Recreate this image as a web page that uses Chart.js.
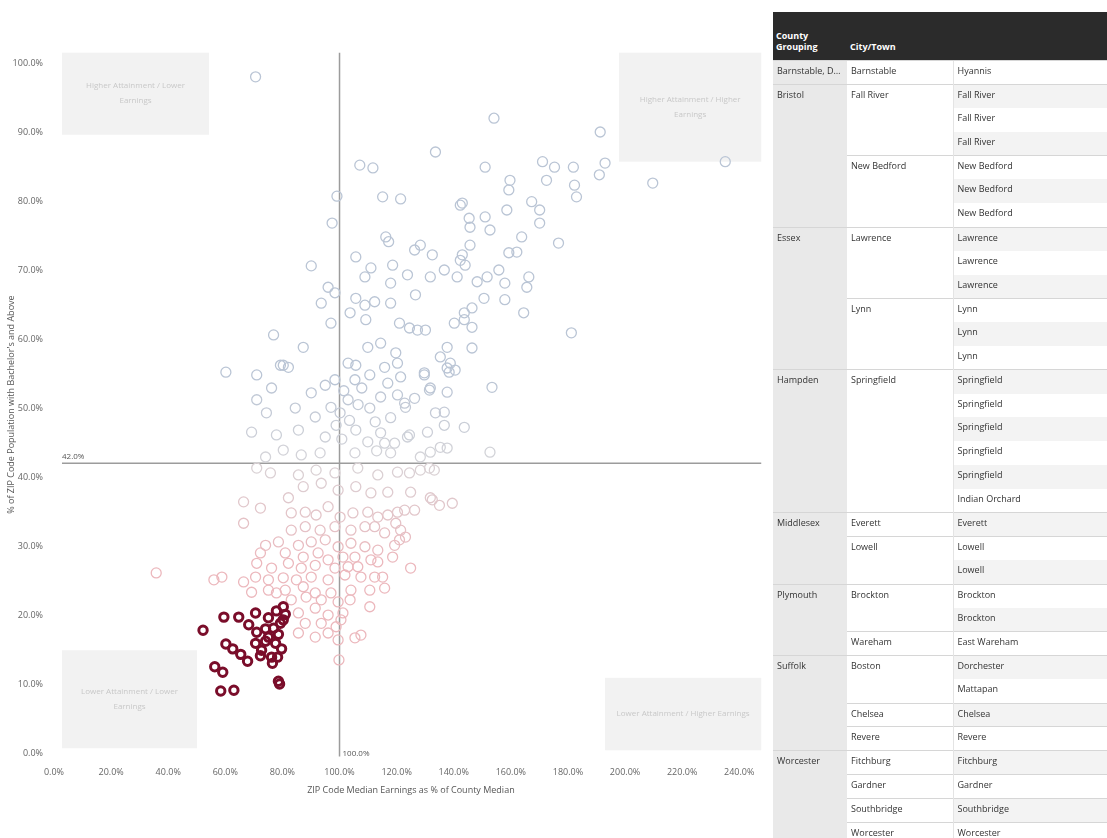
<!DOCTYPE html>
<html>
<head>
<meta charset="utf-8">
<script src="https://cdn.jsdelivr.net/npm/chart.js@4.4.1/dist/chart.umd.min.js"></script>
<style>
  body { margin: 0; background: #fff; width: 1107px; height: 838px; overflow: hidden; font-family: "Open Sans", sans-serif; }
  #chart-box { position: absolute; left: 0; top: 0; width: 775px; height: 800px; }
  #table-box { position: absolute; left: 773px; top: 12px; width: 334px; }
  table { border-collapse: collapse; table-layout: fixed; width: 334px; font-size: 9px; color: #333; }
  th { background: #2b2b2b; color: #fff; font-weight: 700; text-align: left; vertical-align: bottom; height: 40px; padding: 0 3px 8px; line-height: 11px; }
  tbody tr { height: 23.8px; }
  td { padding: 0 4px; vertical-align: top; line-height: 20px; white-space: nowrap; overflow: hidden; text-overflow: ellipsis; }
  td.county { background: #e9e9e9; }
  td.city { background: #fff; }
  td.place { background: #fff; border-left: 1px solid #e4e4e4; }
  td.place.shade { background: #f3f3f3; }
  td.top { border-top: 1px solid #d6d6d6; }
</style>
</head>
<body>
<div id="chart-box"><canvas id="zip-chart" width="775" height="800"></canvas></div>
<div id="table-box">
  <table id="zip-table">
    <colgroup><col style="width:74px"><col style="width:106px"><col style="width:154px"></colgroup>
    <thead><tr><th>County<br>Grouping</th><th>City/Town</th><th></th></tr></thead>
    <tbody></tbody>
  </table>
</div>
<script>
// earnings (% of county median), attainment (% bachelor's and above)
const zipPoints = [
  [70.6,98.0],[133.6,87.1],[107.1,85.2],[111.7,84.8],[99.1,80.7],[115.1,80.6],[121.4,80.3],[97.4,76.8],[142.3,79.4],
  [116.2,74.8],[117.2,74.1],[105.7,71.9],[111.0,70.3],[108.9,69.0],[118.6,70.7],[126.3,72.9],[128.3,73.6],[132.5,72.2],
  [136.7,70.0],[131.8,69.0],[123.8,69.3],[117.9,68.1],[141.2,69.0],[90.1,70.6],[96.0,67.5],[98.4,66.7],[93.6,65.2],
  [105.7,65.9],[112.3,65.4],[117.9,65.2],[126.6,66.4],[103.7,63.8],[108.9,64.9],[109.2,62.8],[97.0,62.3],[121.0,62.3],
  [124.5,61.6],[127.3,61.3],[130.1,61.3],[140.2,62.3],[143.7,62.8],[76.9,60.6],[87.3,58.8],[109.9,58.8],[114.4,59.4],
  [119.7,58.0],[135.3,57.4],[138.8,56.5],[80.3,56.2],[103.0,56.5],[105.7,56.2],
  [154.1,92.0],[191.3,90.0],[235.1,85.7],[151.0,84.9],[171.1,85.7],[175.3,84.9],[172.5,83.0],[181.9,84.9],[182.3,82.3],
  [183.0,80.6],[193.0,85.5],[191.0,83.8],[209.7,82.6],[159.7,83.0],[159.3,81.6],[143.0,79.7],[145.4,77.5],[145.7,76.2],
  [151.0,77.7],[152.7,75.8],[158.6,78.7],[167.3,79.9],[170.1,78.7],[170.1,76.8],[163.8,74.8],[176.7,73.9],[145.7,73.6],
  [159.3,72.5],[162.1,72.6],[143.0,72.2],[144.0,70.7],[155.8,70.0],[151.7,69.0],[148.2,68.3],[157.9,68.1],[166.3,69.0],
  [165.6,67.5],[150.6,65.9],[157.9,65.7],[146.4,64.5],[143.7,63.8],[164.5,63.8],[146.4,61.7],[181.2,60.9],[146.4,58.7],
  [142.3,71.4],
  [120.3,56.5],[115.8,55.9],[137.7,58.8],[121.4,54.5],[129.7,54.8],[138.4,55.2],[140.5,55.5],[131.8,52.9],[137.7,52.3],
  [153.4,53.0],[114.4,51.6],[120.3,51.9],[126.3,51.4],[122.8,50.7],[133.6,49.3],[136.7,49.4],[143.7,47.2],[136.7,47.5],
  [117.9,48.6],[123.8,45.8],[137.7,44.2],[152.7,43.6],[131.8,43.6],[115.8,44.9],
  [60.2,55.2],[71.0,54.8],[79.3,56.2],[82.1,55.9],[76.2,52.9],[71.0,51.2],[74.4,49.3],[84.5,50.0],[90.1,52.2],
  [95.0,53.3],[98.4,54.1],[97.0,50.1],[100.2,49.3],[103.0,51.2],[105.4,54.1],[110.6,54.8],[110.6,50.0],[116.9,53.6],
  [123.1,50.1],[129.7,55.1],[131.5,52.6],[137.7,55.8],[69.2,46.5],[77.9,46.1],[85.6,46.8],[91.5,48.7],[95.0,45.8],
  [98.8,47.5],[105.7,46.8],[109.9,45.1],[114.4,46.4],[119.3,44.9],[124.5,46.1],[130.8,46.5],[135.3,44.3],[74.1,42.9],
  [80.3,43.9],[86.6,43.2],[93.2,43.5],[105.4,43.5],[117.9,43.5],[128.3,42.9],
  [101.5,52.5],[103.5,48.2],[107.8,52.9],[112.5,48.0],[106.5,50.5],[100.8,45.5],[113.0,43.8],
  [124.5,40.6],[131.5,41.3],[124.9,37.8],[132.5,36.7],[135.0,35.9],[139.5,36.2],[116.9,34.5],[120.3,34.9],[122.8,35.2],
  [126.3,35.2],[119.7,33.3],[115.8,31.9],[121.0,30.9],[123.1,31.3],[118.6,28.4],[124.9,26.8],[115.1,25.5],[115.8,23.9],
  [71.0,41.3],[75.8,40.6],[85.6,40.3],[91.8,41.0],[98.4,40.6],[106.4,41.3],[113.4,40.3],[120.3,40.7],[128.3,41.0],
  [133.2,41.0],[66.4,36.4],[72.3,35.5],[66.4,33.3],[82.1,37.0],[87.3,38.6],[93.6,39.1],[99.5,38.1],[105.7,38.6],
  [111.0,37.7],[116.9,37.8],[131.8,37.0],
  [83.1,34.8],[88.0,34.9],[91.8,34.5],[96.0,35.7],[100.2,34.2],[104.7,34.8],[109.9,34.9],[113.4,34.2],
  [83.1,32.3],[88.0,32.8],[93.2,32.3],[98.4,32.8],[104.0,32.3],[108.9,32.8],[112.3,32.8],[121.4,32.3],
  [74.1,30.1],[78.6,30.6],[85.6,30.1],[90.1,30.6],[95.0,30.9],[99.5,29.9],[104.0,30.4],[108.9,29.9],[113.4,29.4],[119.3,30.1],
  [72.3,29.0],[81.0,29.0],[87.3,28.4],[92.5,29.0],[96.0,28.0],[101.2,28.4],[105.4,28.4],[111.0,28.0],
  [71.0,27.5],[76.2,26.8],[82.1,27.5],[86.6,26.8],[91.5,27.2],[98.4,26.8],[103.0,27.0],[106.4,27.0],[113.4,27.7],
  [70.6,25.5],[75.1,25.1],[80.3,25.4],[84.9,25.1],[90.1,25.5],[96.0,25.1],[101.9,25.8],[107.5,25.5],[112.3,25.5],
  [56.0,25.1],[58.8,25.5],[66.4,24.8],[69.2,23.3],[75.1,23.6],[81.0,23.6],[87.3,24.1],[91.5,23.2],[97.0,23.2],
  [104.0,23.6],[110.6,23.6],[77.9,23.2],
  [83.1,22.2],[88.3,22.6],[93.6,22.2],[99.5,21.9],[103.7,22.2],[110.6,21.2],
  [85.6,20.3],[91.5,21.0],[96.0,20.0],[101.2,20.3],
  [88.0,18.8],[93.6,18.8],[98.8,18.3],[100.5,19.3],
  [85.6,17.4],[91.5,16.8],[96.0,17.4],[105.4,16.7],[107.5,17.1],[99.5,16.4],[99.8,13.5],[35.8,26.1]
];

// highlighted gateway-city ZIP codes
const gatewayPoints = [
  [52.2,17.8],[59.5,19.7],[64.7,19.7],[70.6,20.3],[75.1,19.6],[77.9,20.6],[80.3,21.2],[81.0,20.1],[79.3,18.8],
  [76.9,18.1],[74.1,18.0],[71.0,17.5],[78.6,17.2],[75.1,16.8],[70.6,15.9],[74.1,16.2],[77.6,15.9],[79.7,15.1],
  [60.2,15.8],[62.6,15.1],[65.4,14.3],[67.8,13.3],[72.3,14.1],[76.2,13.9],[56.3,12.5],[59.1,11.7],[76.5,13.0],
  [78.6,10.4],[79.0,10.0],[58.4,9.0],[63.0,9.1],[72.7,14.9],[80.3,19.3],[68.2,18.6],[78.3,13.9]
];

const xTicks = [0, 20, 40, 60, 80, 100, 120, 140, 160, 180, 200, 220, 240];
const yTicks = [0, 10, 20, 30, 40, 50, 60, 70, 80, 90, 100];
const earningsRef = 100;
const attainmentRef = 42;

const quadrantBoxes = [
  { x0: 2.8, x1: 54.3, y0: 89.6, y1: 101.5, text: ['Higher Attainment / Lower', 'Earnings'] },
  { x0: 197.9, x1: 247.7, y0: 85.7, y1: 101.5, text: ['Higher Attainment / Higher', 'Earnings'] },
  { x0: 2.8, x1: 50.1, y0: 0.7, y1: 14.9, text: ['Lower Attainment / Lower', 'Earnings'] },
  { x0: 193.0, x1: 247.7, y0: 0.4, y1: 10.9, text: ['Lower Attainment / Higher Earnings'] }
];

const tableRows = [
  ['Barnstable, Dukes and Nantucket', 'Barnstable', 'Hyannis'],
  ['Bristol', 'Fall River', 'Fall River'],
  ['Bristol', 'Fall River', 'Fall River'],
  ['Bristol', 'Fall River', 'Fall River'],
  ['Bristol', 'New Bedford', 'New Bedford'],
  ['Bristol', 'New Bedford', 'New Bedford'],
  ['Bristol', 'New Bedford', 'New Bedford'],
  ['Essex', 'Lawrence', 'Lawrence'],
  ['Essex', 'Lawrence', 'Lawrence'],
  ['Essex', 'Lawrence', 'Lawrence'],
  ['Essex', 'Lynn', 'Lynn'],
  ['Essex', 'Lynn', 'Lynn'],
  ['Essex', 'Lynn', 'Lynn'],
  ['Hampden', 'Springfield', 'Springfield'],
  ['Hampden', 'Springfield', 'Springfield'],
  ['Hampden', 'Springfield', 'Springfield'],
  ['Hampden', 'Springfield', 'Springfield'],
  ['Hampden', 'Springfield', 'Springfield'],
  ['Hampden', 'Springfield', 'Indian Orchard'],
  ['Middlesex', 'Everett', 'Everett'],
  ['Middlesex', 'Lowell', 'Lowell'],
  ['Middlesex', 'Lowell', 'Lowell'],
  ['Plymouth', 'Brockton', 'Brockton'],
  ['Plymouth', 'Brockton', 'Brockton'],
  ['Plymouth', 'Wareham', 'East Wareham'],
  ['Suffolk', 'Boston', 'Dorchester'],
  ['Suffolk', 'Boston', 'Mattapan'],
  ['Suffolk', 'Chelsea', 'Chelsea'],
  ['Suffolk', 'Revere', 'Revere'],
  ['Worcester', 'Fitchburg', 'Fitchburg'],
  ['Worcester', 'Gardner', 'Gardner'],
  ['Worcester', 'Southbridge', 'Southbridge'],
  ['Worcester', 'Worcester', 'Worcester']
];

// --- table ---
const tbody = document.querySelector('#zip-table tbody');
tableRows.forEach(function (row, i) {
  const prev = tableRows[i - 1];
  const newCounty = !prev || prev[0] !== row[0];
  const newCity = newCounty || prev[1] !== row[1];
  const tr = document.createElement('tr');

  if (newCounty) {
    let span = 1;
    while (tableRows[i + span] && tableRows[i + span][0] === row[0]) span++;
    const td = document.createElement('td');
    td.className = 'county top';
    td.rowSpan = span;
    td.textContent = row[0];
    tr.appendChild(td);
  }
  if (newCity) {
    let span = 1;
    while (tableRows[i + span] && tableRows[i + span][0] === row[0] && tableRows[i + span][1] === row[1]) span++;
    const td = document.createElement('td');
    td.className = 'city top';
    td.rowSpan = span;
    td.textContent = row[1];
    tr.appendChild(td);
  }
  const place = document.createElement('td');
  place.className = 'place' + (i % 2 ? ' shade' : '') + (newCity ? ' top' : '');
  place.textContent = row[2];
  tr.appendChild(place);
  tbody.appendChild(tr);
});

// --- chart ---
function mix(a, b, t) {
  return 'rgb(' + a.map((v, k) => Math.round(v + (b[k] - v) * t)).join(',') + ')';
}
function pointColor(y) {
  if (y >= attainmentRef) {
    return mix([214, 213, 217], [186, 197, 213], Math.min((y - attainmentRef) / 12, 1));
  }
  return mix([217, 211, 214], [236, 184, 189], Math.min((attainmentRef - y) / 14, 1));
}

const quadrantPlugin = {
  id: 'quadrants',
  beforeDatasetsDraw(chart) {
    const { ctx, scales: { x, y } } = chart;
    ctx.save();
    quadrantBoxes.forEach(function (b) {
      const left = x.getPixelForValue(b.x0), right = x.getPixelForValue(b.x1);
      const top = y.getPixelForValue(b.y1), bottom = y.getPixelForValue(b.y0);
      ctx.fillStyle = '#f2f2f2';
      ctx.fillRect(left, top, right - left, bottom - top);
      ctx.fillStyle = '#c8c8c8';
      ctx.font = '8px "Open Sans", sans-serif';
      ctx.textAlign = 'center';
      ctx.textBaseline = 'middle';
      const cx = (left + right) / 2, cy = (top + bottom) / 2;
      b.text.forEach(function (line, k) {
        ctx.fillText(line, cx, cy + (k - (b.text.length - 1) / 2) * 15);
      });
    });

    ctx.strokeStyle = '#9c9c9c';
    ctx.lineWidth = 1.5;
    const vx = x.getPixelForValue(earningsRef);
    ctx.beginPath();
    ctx.moveTo(vx, chart.chartArea.top);
    ctx.lineTo(vx, chart.chartArea.bottom);
    ctx.stroke();
    const hy = y.getPixelForValue(attainmentRef);
    ctx.beginPath();
    ctx.moveTo(x.getPixelForValue(2.8), hy);
    ctx.lineTo(x.getPixelForValue(247.7), hy);
    ctx.stroke();

    ctx.fillStyle = '#555';
    ctx.font = '8px "Open Sans", sans-serif';
    ctx.textAlign = 'left';
    ctx.textBaseline = 'bottom';
    ctx.fillText(attainmentRef.toFixed(1) + '%', x.getPixelForValue(2.8), hy - 3);
    ctx.textBaseline = 'middle';
    ctx.fillText(earningsRef.toFixed(1) + '%', vx + 3, chart.chartArea.bottom - 3);
    ctx.restore();
  }
};

Chart.defaults.font.family = '"Open Sans", sans-serif';

const ctx = document.getElementById('zip-chart').getContext('2d');
new Chart(ctx, {
  type: 'scatter',
  data: {
    datasets: [
      {
        label: 'Gateway city ZIP codes',
        data: gatewayPoints.map(([x, y]) => ({ x, y })),
        borderColor: '#7a0d2a',
        backgroundColor: 'rgba(0,0,0,0)',
        borderWidth: 3,
        pointRadius: 4.2,
        order: 0
      },
      {
        label: 'ZIP codes',
        data: zipPoints.map(([x, y]) => ({ x, y })),
        borderColor: (c) => (c.raw ? pointColor(c.raw.y) : '#ccc'),
        backgroundColor: 'rgba(0,0,0,0)',
        borderWidth: 1.3,
        pointRadius: 5,
        order: 1
      }
    ]
  },
  options: {
    responsive: false,
    animation: false,
    devicePixelRatio: 1,
    layout: { padding: { top: 52.65, right: 2, bottom: 0, left: 0 } },
    plugins: { legend: { display: false }, tooltip: { enabled: false } },
    scales: {
      x: {
        type: 'linear',
        min: 0,
        max: 250,
        afterFit: (s) => { s.height = 43.5; },
        afterBuildTicks: (s) => { s.ticks = xTicks.map((v) => ({ value: v })); },
        grid: { display: false },
        border: { display: false },
        ticks: { callback: (v) => v.toFixed(1) + '%', font: { size: 9 }, color: '#666', padding: 3, maxRotation: 0, autoSkip: false },
        title: { display: true, text: 'ZIP Code Median Earnings as % of County Median', font: { size: 9 }, color: '#555', padding: { top: 2, bottom: 4 } }
      },
      y: {
        min: -0.5,
        max: 101.5,
        afterFit: (s) => { s.width = 54; },
        afterBuildTicks: (s) => { s.ticks = yTicks.map((v) => ({ value: v })); },
        grid: { display: false },
        border: { display: false },
        ticks: { callback: (v) => v.toFixed(1) + '%', font: { size: 9 }, color: '#666', padding: 3 },
        title: { display: true, text: "% of ZIP Code Population with Bachelor's and Above", font: { size: 9 }, color: '#555', padding: { top: 6, bottom: 0 } }
      }
    }
  },
  plugins: [quadrantPlugin]
});
</script>
</body>
</html>
